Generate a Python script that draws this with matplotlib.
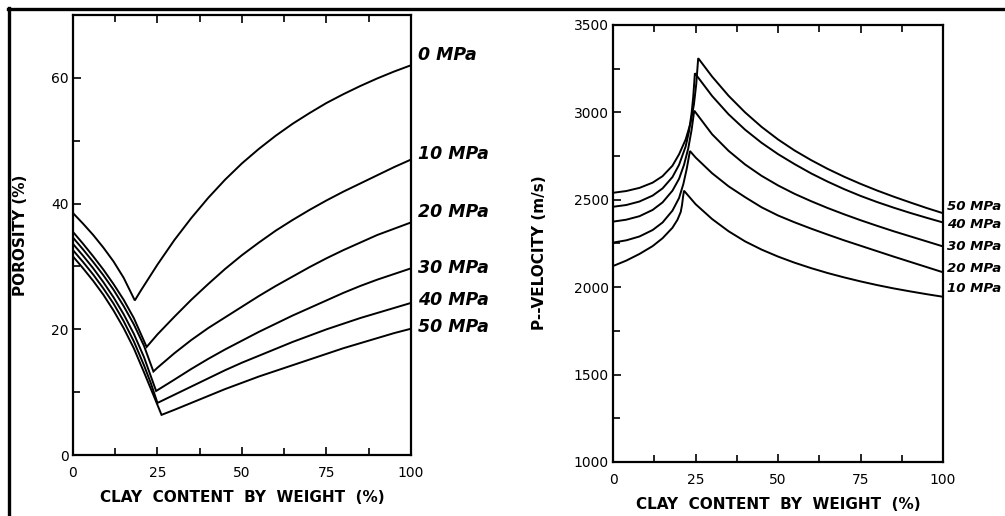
"""Porosity and P-velocity against clay content, two panels"""

import matplotlib
matplotlib.use("Agg")
import matplotlib.pyplot as plt
from matplotlib.lines import Line2D
from matplotlib.ticker import MultipleLocator

# ---- porosity panel (clay %, porosity %) ----
por_labels = ["0 MPa", "10 MPa", "20 MPa", "30 MPa", "40 MPa", "50 MPa"]
por_label_y = [63.6, 47.9, 38.7, 29.7, 24.7, 20.3]

clay_p0 = [0, 3, 6, 9, 12, 15, 18.3, 20, 25, 30, 35, 40, 45, 50, 55, 60, 65, 70, 75, 80, 85, 90, 95, 100]
por_p0 = [38.5, 36.8, 35.0, 33.0, 30.8, 28.2, 24.6, 26.1, 30.3, 34.2, 37.7, 40.9, 43.8, 46.4,
          48.7, 50.8, 52.7, 54.4, 56.0, 57.4, 58.7, 59.9, 61.0, 62.0]

clay_p10 = [0, 3, 6, 9, 12, 15, 18, 21.8, 25, 30, 35, 40, 45, 50, 55, 60, 65, 70, 75, 80, 85, 90, 95, 100]
por_p10 = [35.5, 33.6, 31.6, 29.5, 27.2, 24.7, 21.8, 17.2, 19.2, 22.0, 24.7, 27.2, 29.6, 31.8,
           33.8, 35.7, 37.4, 39.0, 40.5, 41.9, 43.2, 44.5, 45.8, 47.0]

clay_p20 = [0, 3, 6, 9, 12, 15, 18, 21, 23.8, 25, 30, 35, 40, 45, 50, 55, 60, 65, 70, 75, 80, 85, 90, 95, 100]
por_p20 = [34.6, 32.7, 30.7, 28.6, 26.3, 23.7, 20.8, 17.4, 13.3, 13.9, 16.2, 18.3, 20.2, 21.9, 23.6,
           25.3, 26.9, 28.4, 29.9, 31.3, 32.6, 33.8, 35.0, 36.0, 37.0]

clay_p30 = [0, 3, 6, 9, 12, 15, 18, 21, 24.6, 30, 35, 40, 45, 50, 55, 60, 65, 70, 75, 80, 85, 90, 95, 100]
por_p30 = [33.6, 31.7, 29.7, 27.5, 25.1, 22.4, 19.3, 15.6, 10.2, 12.0, 13.7, 15.3, 16.8, 18.2,
           19.6, 20.9, 22.2, 23.4, 24.6, 25.8, 26.9, 27.9, 28.8, 29.7]

clay_p40 = [0, 3, 6, 9, 12, 15, 18, 21, 23, 25, 30, 35, 40, 45, 50, 55, 60, 65, 70, 75, 80, 85, 90, 95, 100]
por_p40 = [32.6, 30.7, 28.7, 26.5, 24.1, 21.3, 18.1, 14.3, 11.5, 8.3, 9.6, 10.9, 12.2, 13.5, 14.7,
           15.8, 16.9, 18.0, 19.0, 20.0, 20.9, 21.8, 22.6, 23.4, 24.2]

clay_p50 = [0, 3, 6, 9, 12, 15, 18, 21, 24, 26.2, 30, 35, 40, 45, 50, 55, 60, 65, 70, 75, 80, 85, 90, 95, 100]
por_p50 = [31.6, 29.7, 27.7, 25.5, 23.0, 20.2, 17.0, 13.2, 9.3, 6.4, 7.2, 8.3, 9.4, 10.5, 11.5,
           12.5, 13.4, 14.3, 15.2, 16.1, 17.0, 17.8, 18.6, 19.4, 20.1]

# ---- velocity panel (clay %, Vp m/s) ----
vel_labels = ["50 MPa", "40 MPa", "30 MPa", "20 MPa", "10 MPa"]
vel_label_y = [2461, 2360, 2232, 2108, 1994]

clay_v50 = [0, 4, 8, 12, 15, 18, 20, 22, 23.5, 24.5, 25.2, 25.8,
            30, 35, 40, 45, 50, 55, 60, 65, 70, 75, 80, 85, 90, 95, 100]
vel_v50 = [2540, 2550, 2568, 2598, 2635, 2695, 2760, 2845, 2940, 3045, 3160, 3310,
           3205, 3095, 3000, 2917, 2845, 2782, 2727, 2677, 2632, 2591, 2553, 2518, 2485, 2453, 2423]

clay_v40 = [0, 4, 8, 12, 15, 18, 20, 22, 23, 23.8, 24.3, 24.8,
            30, 35, 40, 45, 50, 55, 60, 65, 70, 75, 80, 85, 90, 95, 100]
vel_v40 = [2460, 2470, 2490, 2524, 2565, 2630, 2700, 2805, 2890, 2995, 3090, 3224,
           3094, 2989, 2901, 2826, 2761, 2704, 2651, 2604, 2561, 2522, 2487, 2455, 2425, 2397, 2370]

clay_v30 = [0, 4, 8, 12, 15, 18, 20, 21.5, 22.8, 23.8, 24.6,
            30, 35, 40, 45, 50, 55, 60, 65, 70, 75, 80, 85, 90, 95, 100]
vel_v30 = [2375, 2386, 2406, 2442, 2485, 2552, 2620, 2700, 2795, 2900, 3010,
           2875, 2780, 2702, 2637, 2582, 2534, 2492, 2453, 2417, 2383, 2351, 2320, 2291, 2262, 2233]

clay_v20 = [0, 4, 8, 12, 15, 18, 20, 21.3, 22.3, 23.3,
            25, 30, 35, 40, 45, 50, 55, 60, 65, 70, 75, 80, 85, 90, 95, 100]
vel_v20 = [2255, 2268, 2290, 2327, 2370, 2438, 2510, 2590, 2675, 2779,
           2742, 2652, 2577, 2515, 2457, 2410, 2371, 2335, 2301, 2268, 2237, 2206, 2175, 2145, 2115, 2085]

clay_v10 = [0, 4, 8, 12, 15, 18, 19.5, 20.5, 20.9, 21.2, 21.5,
            25, 30, 35, 40, 45, 50, 55, 60, 65, 70, 75, 80, 85, 90, 95, 100]
vel_v10 = [2121, 2152, 2190, 2235, 2280, 2340, 2385, 2430, 2470, 2515, 2552,
           2475, 2390, 2320, 2262, 2215, 2175, 2140, 2109, 2081, 2056, 2033, 2012, 1993, 1976, 1960, 1945]

clay_ticks = [0, 25, 50, 75, 100]

plt.rcParams["font.family"] = ["DejaVu Sans"]

fig = plt.figure(figsize=(10.05, 5.16), dpi=100)
ax1 = fig.add_axes([0.0726, 0.118, 0.3363, 0.853])
ax2 = fig.add_axes([0.610, 0.1047, 0.3284, 0.8469])

line_kw = dict(color="black", lw=1.4, solid_joinstyle="miter")

# porosity curves
for xs, ys in [(clay_p0, por_p0), (clay_p10, por_p10), (clay_p20, por_p20),
               (clay_p30, por_p30), (clay_p40, por_p40), (clay_p50, por_p50)]:
    ax1.plot(xs, ys, **line_kw)
ax1.set_xlim(0, 100)
ax1.set_ylim(0, 70)
ax1.yaxis.set_major_locator(MultipleLocator(20))
ax1.yaxis.set_minor_locator(MultipleLocator(10))
for lab, y in zip(por_labels, por_label_y):
    ax1.text(1.022, y, lab, transform=ax1.get_yaxis_transform(), ha="left", va="center",
             fontsize=12.5, fontweight="bold", style="italic", clip_on=False)
ax1.set_ylabel("POROSITY (%)", fontsize=11, fontweight="bold")
ax1.yaxis.set_label_coords(-0.133, 0.5)

# velocity curves
for xs, ys in [(clay_v50, vel_v50), (clay_v40, vel_v40), (clay_v30, vel_v30),
               (clay_v20, vel_v20), (clay_v10, vel_v10)]:
    ax2.plot(xs, ys, **line_kw)
ax2.set_xlim(0, 100)
ax2.set_ylim(1000, 3500)
ax2.yaxis.set_major_locator(MultipleLocator(500))
ax2.yaxis.set_minor_locator(MultipleLocator(250))
# labels kept inside the figure edge
for lab, y in zip(vel_labels, vel_label_y):
    ax2.text(1.012, y, lab, transform=ax2.get_yaxis_transform(), ha="left", va="center",
             fontsize=9.6, fontweight="bold", style="italic", clip_on=False)
ax2.set_ylabel("P--VELOCITY (m/s)", fontsize=11, fontweight="bold")
ax2.yaxis.set_label_coords(-0.2, 0.48)

for ax in (ax1, ax2):
    ax.set_xticks(clay_ticks)
    ax.xaxis.set_minor_locator(MultipleLocator(12.5))
    ax.tick_params(which="both", direction="in", top=True, right=False, width=1.2)
    ax.tick_params(which="major", length=6)
    ax.tick_params(which="minor", length=5)
    ax.tick_params(axis="x", which="major", pad=8, labelsize=10)
    ax.tick_params(axis="y", which="major", pad=3, labelsize=10)
    for s in ax.spines.values():
        s.set_linewidth(1.6)
    ax.set_xlabel("CLAY  CONTENT  BY  WEIGHT  (%)", fontsize=11, fontweight="bold", labelpad=7)

# frame lines along top and left of the image
fig.add_artist(Line2D([0.008, 1.0], [0.9826, 0.9826], color="black", lw=2.4,
                      transform=fig.transFigure))
fig.add_artist(Line2D([0.009, 0.009], [0.0, 0.984], color="black", lw=2.4,
                      transform=fig.transFigure))

fig.savefig("out.png", dpi=100, facecolor="white")
